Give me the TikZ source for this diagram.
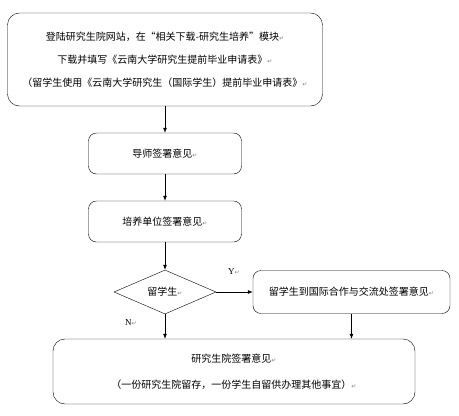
\documentclass[tikz,border=0pt]{standalone}
\usepackage{fontspec}
\setmainfont{Liberation Serif}
\newfontfamily\cjk{Noto Sans CJK SC}
\newfontfamily\symf{DejaVu Sans}
\usetikzlibrary{shapes.geometric,arrows.meta}
\newcommand{\pmk}{{\symf\fontsize{6}{6}\selectfont\color{gray}↵}}
\begin{document}
\begin{tikzpicture}[x=1pt,y=-1pt,
  box/.style={draw, rounded corners=8pt, align=center, inner sep=0pt,
    font=\cjk\fontsize{10}{23}\selectfont},
  dia/.style={draw, diamond, aspect=2.3, inner sep=0pt, minimum width=102pt,
    minimum height=44pt, font=\cjk\fontsize{10}{12}\selectfont},
  arr/.style={-{Latex[length=5pt,width=4pt]}, line width=0.7pt}]
  \useasboundingbox (0,0) rectangle (459,416);
  \node[box, rounded corners=12pt, minimum width=315pt, minimum height=93pt] (apply) at (165,59.5)
    {登陆研究生院网站，在“相关下载-研究生培养”模块\pmk\\
     下载并填写《云南大学研究生提前毕业申请表》\pmk\\
     （留学生使用《云南大学研究生（国际学生）提前毕业申请表》\pmk};
  \node[box, minimum width=153pt, minimum height=41pt] (tutor) at (165,153.5) {导师签署意见\pmk};
  \node[box, minimum width=153pt, minimum height=41pt] (unit) at (165,221.5) {培养单位签署意见\pmk};
  \node[dia] (intl) at (165,292) {留学生\pmk};
  \node[box, minimum width=197pt, minimum height=43pt] (office) at (351.5,292)
    {留学生到国际合作与交流处签署意见\pmk};
  \node[box, rounded corners=12pt, minimum width=362pt, minimum height=65pt,
    font=\cjk\fontsize{10}{26}\selectfont] (grad) at (234,371.5)
    {研究生院签署意见\pmk\\（一份研究生院留存，一份学生自留供办理其他事宜）\pmk};
  \node[font=\fontsize{9}{9}\selectfont] (yes) at (234,272) {Y\pmk};
  \node[font=\fontsize{9}{9}\selectfont] (no) at (131,323) {N\pmk};
  \draw[arr] (apply) -- (tutor);
  \draw[arr] (tutor) -- (unit);
  \draw[arr] (unit) -- (intl);
  \draw[arr] (intl) -- (office);
  \draw[arr] (intl.south) -- (intl.south |- grad.north);
  \draw[arr] (office.south) -- (office.south |- grad.north);
\end{tikzpicture}
\end{document}
